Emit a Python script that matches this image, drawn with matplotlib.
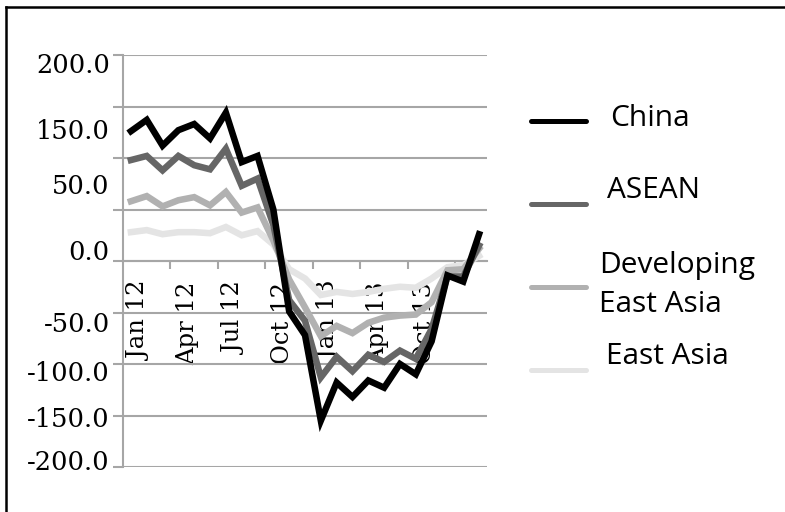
import matplotlib
matplotlib.use("Agg")
import matplotlib.pyplot as plt
from matplotlib.lines import Line2D
from matplotlib.transforms import ScaledTranslation
import numpy as np

# ---------------- data ----------------
months = ["Jan 12", "Feb 12", "Mar 12", "Apr 12", "May 12", "Jun 12", "Jul 12",
          "Aug 12", "Sep 12", "Oct 12", "Nov 12", "Dec 12", "Jan 13", "Feb 13",
          "Mar 13", "Apr 13", "May 13", "Jun 13", "Jul 13", "Aug 13", "Sep 13",
          "Oct 13", "Nov 13"]

china = [126, 137, 112, 127, 133, 119, 144, 96, 102, 50, -49, -72, -155, -118,
         -132, -116, -123, -100, -110, -78, -14, -20, 26]
asean = [98, 102, 88, 102, 93, 89, 109, 73, 80, 35, -38, -58, -113, -93,
         -107, -91, -98, -87, -95, -66, -15, -15, 15]
developing = [58, 63, 53, 59, 62, 54, 67, 47, 52, 20, -18, -45, -73, -63,
              -70, -60, -55, -53, -52, -40, -9, -8, 12]
east_asia = [28, 30, 26, 28, 28, 27, 33, 25, 29, 16, -8, -17, -33, -30,
             -32, -30, -27, -25, -26, -17, -6, -4, 5]

series_names = ["China", "ASEAN", "Developing\nEast Asia", "East Asia"]
series_colors = ["#000000", "#666666", "#b1b1b1", "#e4e4e4"]

xtick_labels = ["Jan 12", "Apr 12", "Jul 12", "Oct 12", "Jan 13", "Apr 13", "Oct 13"]
ytick_labels = ["200.0", "150.0", "50.0", "0.0", "-50.0", "-100.0", "-150.0", "-200.0"]

# ---------------- layout ----------------
W, H = 785, 512
fig = plt.figure(figsize=(W / 100, H / 100), dpi=100)
ax = fig.add_axes([123 / W, 1 - 467 / H, (487 - 123) / W, (467 - 55) / H])

x = np.arange(len(months))
all_series = [china, asean, developing, east_asia]
lw = 4.7
for i in reversed(range(len(all_series))):
    ax.plot(x, all_series[i], color=series_colors[i], lw=lw,
            solid_joinstyle="miter", zorder=3 + (4 - i) * 0.1)

ax.set_xlim(-0.5, len(months) - 0.5)
ax.set_ylim(-200, 200)

grid_c = "#a6a6a6"
ax.set_yticks(np.arange(-200, 201, 50))
ax.set_yticklabels([])
ax.yaxis.grid(True, color=grid_c, lw=1.5)
ax.set_axisbelow(True)
ax.tick_params(axis="y", which="major", length=7, width=1.5, color=grid_c, direction="out")

# y labels (positions as they appear in the original)
ylab_pos = [192, 128, 75, 11, -59, -107, -151, -193]
ax.set_yticks(ylab_pos, minor=True)
ax.set_yticklabels(ytick_labels, minor=True, fontsize=18.5, family="DejaVu Serif")
ax.tick_params(axis="y", which="minor", length=0, pad=9.5)

# x axis at zero
ax.spines["bottom"].set_position(("data", 0))
for s in ["top", "right"]:
    ax.spines[s].set_visible(False)
for s in ["left", "bottom"]:
    ax.spines[s].set_color(grid_c)
    ax.spines[s].set_linewidth(1.5)

label_idx = [0, 3, 6, 9, 12, 15, 18]
ax.set_xticks(np.arange(2.5, len(months) - 1, 3))
ax.set_xticklabels([])
ax.tick_params(axis="x", which="major", length=6, width=1.5, color=grid_c, direction="out")
ax.set_xticks(label_idx, minor=True)
ax.set_xticklabels(xtick_labels, minor=True, rotation=90, fontsize=17.5,
                   family="DejaVu Serif", va="top", ha="center")
ax.tick_params(axis="x", which="minor", length=0, pad=15)
off = ScaledTranslation(9 / 100, 0, fig.dpi_scale_trans)
for lab in ax.get_xticklabels(minor=True):
    lab.set_transform(lab.get_transform() + off)

# ---------------- legend (manual) ----------------
leg_line_y = [121, 204, 287, 370]
leg_text_y = [118, 190, 285, 357]
leg_text_x = [610, 607, 599, 606]
for i in range(4):
    fy = 1 - leg_line_y[i] / H
    fig.add_artist(Line2D([531 / W, 586 / W], [fy, fy], color=series_colors[i],
                          lw=3.6, solid_capstyle="round"))
    fig.text(leg_text_x[i] / W, 1 - leg_text_y[i] / H, series_names[i],
             family="Open Sans", fontsize=21.5, va="center", ha="left",
             linespacing=1.45)

# ---------------- outer frame ----------------
fig.add_artist(Line2D([6 / W, 6 / W], [0, 1 - 7 / H], color="black", lw=1.8))
fig.add_artist(Line2D([6 / W, 1], [1 - 7 / H, 1 - 7 / H], color="black", lw=1.8))

fig.savefig("out.png", dpi=100)
